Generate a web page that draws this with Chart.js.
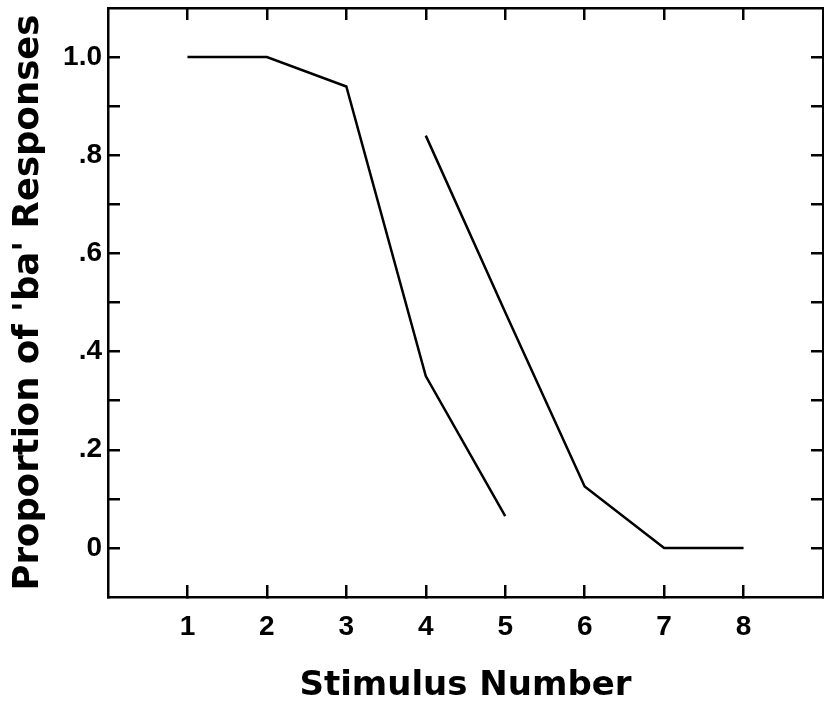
<!DOCTYPE html>
<html>
<head>
<meta charset="utf-8">
<script src="https://cdn.jsdelivr.net/npm/chart.js@4/dist/chart.umd.min.js"></script>
<style>
  html, body { margin: 0; padding: 0; background: #fff; }
  #wrap { width: 824px; height: 701px; position: relative; }
</style>
</head>
<body>
<div id="wrap"><canvas id="chart"></canvas></div>
<script>
// identification curves, one per continuum
const stimulusA = [1, 2, 3, 4, 5];
const responsesA = [1.0, 1.0, 0.94, 0.35, 0.065];
const stimulusB = [4, 5, 6, 7, 8];
const responsesB = [0.84, 0.48, 0.125, 0, 0];

const xTicks = [1, 2, 3, 4, 5, 6, 7, 8];
const yTicks = [0, 0.1, 0.2, 0.3, 0.4, 0.5, 0.6, 0.7, 0.8, 0.9, 1.0];
const yTickLabels = { 0: '0', 2: '.2', 4: '.4', 6: '.6', 8: '.8', 10: '1.0' };

const tickFont = { family: "'Liberation Sans', Arial, sans-serif", size: 28, weight: 'bold' };
const xTitleFont = { family: "'DejaVu Sans', sans-serif", size: 34, weight: 'bold' };
const yTitleFont = { family: "'DejaVu Sans', sans-serif", size: 35.5, weight: 'bold' };

const toPoints = (xs, ys) => xs.map((x, i) => ({ x: x, y: ys[i] }));

// inward tick marks on all four sides of the box
const frame = { display: true, color: '#000', width: 2.5 };
const inwardGrid = { drawOnChartArea: false, drawTicks: true, tickLength: -12, color: '#000', lineWidth: 2.5 };

const lineStyle = { borderColor: '#000', borderWidth: 2.5, pointRadius: 0, tension: 0, fill: false };

new Chart(document.getElementById('chart'), {
    type: 'line',
    data: {
        datasets: [
            Object.assign({ data: toPoints(stimulusA, responsesA) }, lineStyle),
            Object.assign({ data: toPoints(stimulusB, responsesB) }, lineStyle)
        ]
    },
    options: {
        responsive: true,
        maintainAspectRatio: false,
        animation: false,
        layout: { padding: { left: 0, right: 1, top: 8, bottom: 0 } },
        plugins: {
            legend: { display: false },
            tooltip: { enabled: false }
        },
        scales: {
            x: {
                type: 'linear',
                position: 'bottom',
                min: 0,
                max: 9,
                afterBuildTicks: s => { s.ticks = xTicks.map(v => ({ value: v })); },
                afterFit: s => { s.height = 104; s.paddingLeft = 0; s.paddingRight = 0; },
                border: frame,
                grid: inwardGrid,
                ticks: { color: '#000', font: tickFont, padding: 25, maxRotation: 0 },
                title: {
                    display: true,
                    text: 'Stimulus Number',
                    color: '#000',
                    font: xTitleFont,
                    padding: { top: 0, bottom: -6 }
                }
            },
            x2: {
                type: 'linear',
                position: 'top',
                min: 0,
                max: 9,
                afterBuildTicks: s => { s.ticks = xTicks.map(v => ({ value: v })); },
                afterFit: s => { s.height = 0; },
                border: frame,
                grid: inwardGrid,
                ticks: { display: false }
            },
            y: {
                type: 'linear',
                position: 'left',
                min: -0.1,
                max: 1.1,
                afterBuildTicks: s => { s.ticks = yTicks.map(v => ({ value: v })); },
                afterFit: s => { s.width = 108; s.paddingTop = 0; s.paddingBottom = 0; },
                border: frame,
                grid: inwardGrid,
                ticks: {
                    color: '#000',
                    font: tickFont,
                    padding: 18,
                    callback: v => yTickLabels[Math.round(v * 10)] || ''
                },
                title: {
                    display: true,
                    text: "Proportion of 'ba' Responses",
                    color: '#000',
                    font: yTitleFont,
                    padding: { top: 7, bottom: 0 }
                }
            },
            y2: {
                type: 'linear',
                position: 'right',
                min: -0.1,
                max: 1.1,
                afterBuildTicks: s => { s.ticks = yTicks.map(v => ({ value: v })); },
                afterFit: s => { s.width = 0; },
                border: frame,
                grid: inwardGrid,
                ticks: { display: false }
            }
        }
    }
});
</script>
</body>
</html>
